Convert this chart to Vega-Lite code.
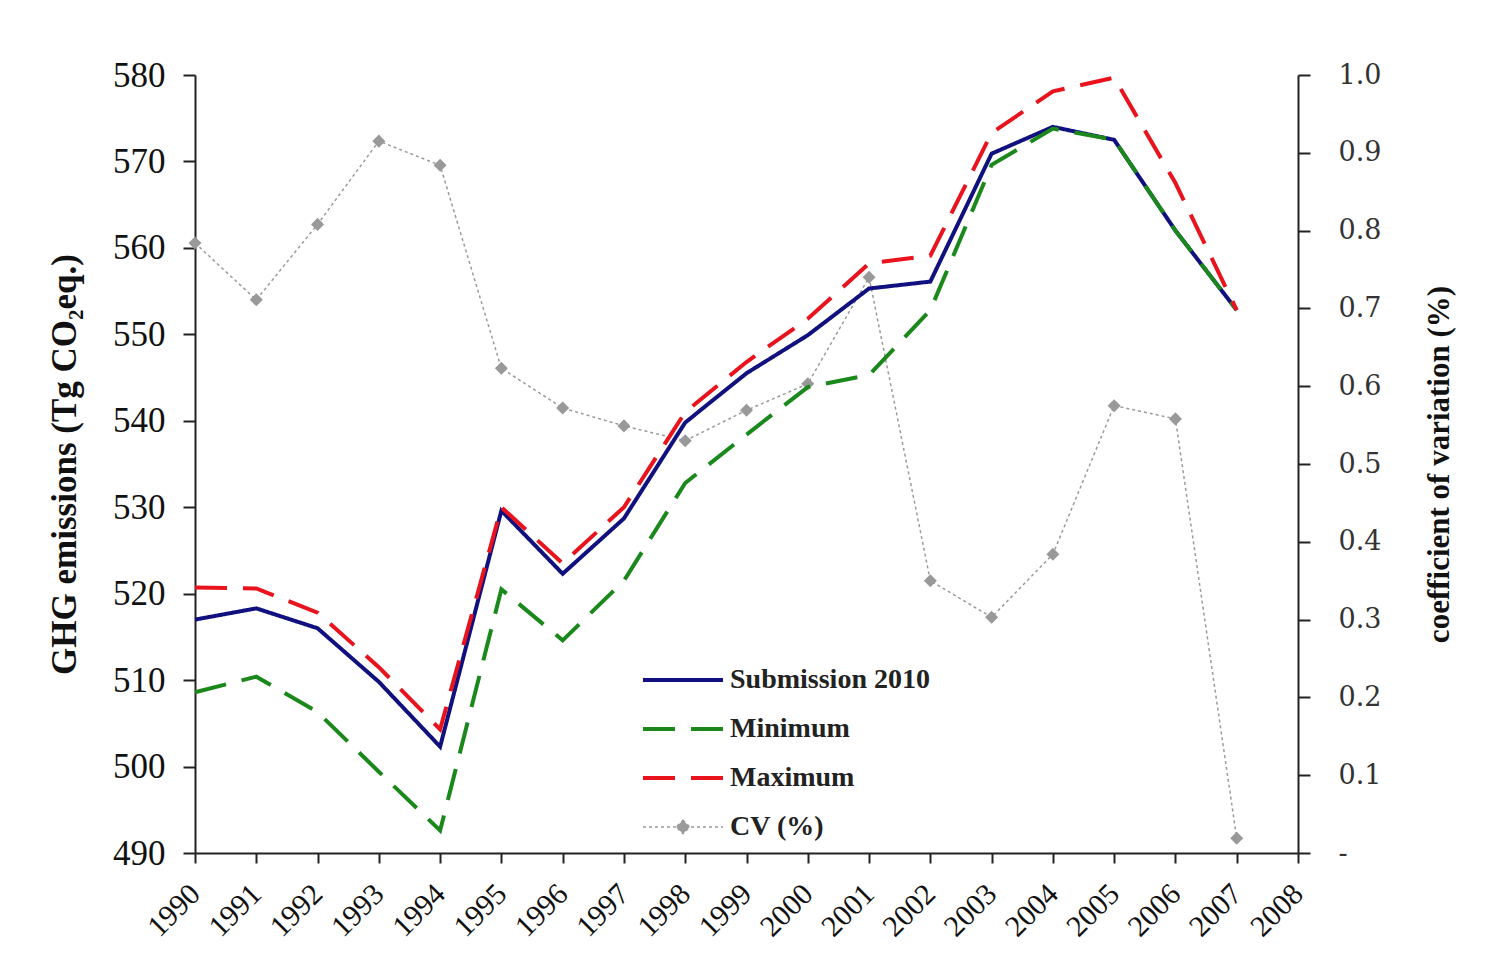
{
  "$schema": "https://vega.github.io/schema/vega-lite/v6.json",
  "width": 1103,
  "height": 778,
  "autosize": "none",
  "padding": {"left": 195, "top": 75, "right": 188, "bottom": 125},
  "background": "white",
  "config": {
    "view": {"stroke": null},
    "font": "Liberation Serif",
    "axis": {
      "grid": false,
      "domainColor": "#222",
      "domainWidth": 2,
      "tickColor": "#222",
      "tickWidth": 2,
      "tickSize": 12,
      "labelColor": "#111",
      "labelFont": "Liberation Serif",
      "titleFont": "Liberation Serif",
      "titleColor": "#111",
      "titleFontWeight": "bold"
    },
    "legend": {
      "title": null,
      "orient": "none",
      "legendX": 474,
      "legendY": 591,
      "symbolType": "stroke",
      "symbolSize": 6400,
      "symbolStrokeWidth": 4,
      "labelFont": "Liberation Serif",
      "labelFontWeight": "bold",
      "labelFontSize": 28,
      "labelColor": "#222",
      "labelOffset": 33,
      "labelLimit": 0,
      "rowPadding": 21
    }
  },
  "datasets": {
    "emissions": [
      {"year": 1990, "series": "Submission 2010", "value": 517.0},
      {"year": 1991, "series": "Submission 2010", "value": 518.3},
      {"year": 1992, "series": "Submission 2010", "value": 516.0},
      {"year": 1993, "series": "Submission 2010", "value": 509.8},
      {"year": 1994, "series": "Submission 2010", "value": 502.3},
      {"year": 1995, "series": "Submission 2010", "value": 529.6},
      {"year": 1996, "series": "Submission 2010", "value": 522.3},
      {"year": 1997, "series": "Submission 2010", "value": 528.7},
      {"year": 1998, "series": "Submission 2010", "value": 539.8},
      {"year": 1999, "series": "Submission 2010", "value": 545.5},
      {"year": 2000, "series": "Submission 2010", "value": 549.9},
      {"year": 2001, "series": "Submission 2010", "value": 555.3},
      {"year": 2002, "series": "Submission 2010", "value": 556.1},
      {"year": 2003, "series": "Submission 2010", "value": 570.9},
      {"year": 2004, "series": "Submission 2010", "value": 574.0},
      {"year": 2005, "series": "Submission 2010", "value": 572.5},
      {"year": 2006, "series": "Submission 2010", "value": 562.0},
      {"year": 2007, "series": "Submission 2010", "value": 552.8},
      {"year": 1990, "series": "Minimum", "value": 508.6},
      {"year": 1991, "series": "Minimum", "value": 510.4},
      {"year": 1992, "series": "Minimum", "value": 506.3},
      {"year": 1993, "series": "Minimum", "value": 499.4},
      {"year": 1994, "series": "Minimum", "value": 492.6},
      {"year": 1995, "series": "Minimum", "value": 520.5},
      {"year": 1996, "series": "Minimum", "value": 514.6},
      {"year": 1997, "series": "Minimum", "value": 521.5},
      {"year": 1998, "series": "Minimum", "value": 532.8},
      {"year": 1999, "series": "Minimum", "value": 538.4},
      {"year": 2000, "series": "Minimum", "value": 543.9},
      {"year": 2001, "series": "Minimum", "value": 545.3},
      {"year": 2002, "series": "Minimum", "value": 552.8},
      {"year": 2003, "series": "Minimum", "value": 569.6},
      {"year": 2004, "series": "Minimum", "value": 573.8},
      {"year": 2005, "series": "Minimum", "value": 572.5},
      {"year": 2006, "series": "Minimum", "value": 562.0},
      {"year": 2007, "series": "Minimum", "value": 552.8},
      {"year": 1990, "series": "Maximum", "value": 520.7},
      {"year": 1991, "series": "Maximum", "value": 520.6},
      {"year": 1992, "series": "Maximum", "value": 517.8},
      {"year": 1993, "series": "Maximum", "value": 511.5},
      {"year": 1994, "series": "Maximum", "value": 504.3},
      {"year": 1995, "series": "Maximum", "value": 530.0},
      {"year": 1996, "series": "Maximum", "value": 523.5},
      {"year": 1997, "series": "Maximum", "value": 530.0},
      {"year": 1998, "series": "Maximum", "value": 541.0},
      {"year": 1999, "series": "Maximum", "value": 546.8},
      {"year": 2000, "series": "Maximum", "value": 551.8},
      {"year": 2001, "series": "Maximum", "value": 558.2},
      {"year": 2002, "series": "Maximum", "value": 559.1},
      {"year": 2003, "series": "Maximum", "value": 573.3},
      {"year": 2004, "series": "Maximum", "value": 578.1},
      {"year": 2005, "series": "Maximum", "value": 579.7},
      {"year": 2006, "series": "Maximum", "value": 567.5},
      {"year": 2007, "series": "Maximum", "value": 552.8}
    ],
    "cv": [
      {"year": 1990, "series": "CV (%)", "value": 0.784},
      {"year": 1991, "series": "CV (%)", "value": 0.711},
      {"year": 1992, "series": "CV (%)", "value": 0.808},
      {"year": 1993, "series": "CV (%)", "value": 0.915},
      {"year": 1994, "series": "CV (%)", "value": 0.884},
      {"year": 1995, "series": "CV (%)", "value": 0.623},
      {"year": 1996, "series": "CV (%)", "value": 0.572},
      {"year": 1997, "series": "CV (%)", "value": 0.549},
      {"year": 1998, "series": "CV (%)", "value": 0.530},
      {"year": 1999, "series": "CV (%)", "value": 0.569},
      {"year": 2000, "series": "CV (%)", "value": 0.603},
      {"year": 2001, "series": "CV (%)", "value": 0.740},
      {"year": 2002, "series": "CV (%)", "value": 0.350},
      {"year": 2003, "series": "CV (%)", "value": 0.303},
      {"year": 2004, "series": "CV (%)", "value": 0.384},
      {"year": 2005, "series": "CV (%)", "value": 0.575},
      {"year": 2006, "series": "CV (%)", "value": 0.558},
      {"year": 2007, "series": "CV (%)", "value": 0.019}
    ]
  },
  "encoding": {
    "x": {
      "field": "year",
      "type": "quantitative",
      "scale": {"domain": [1990, 2008], "nice": false, "zero": false},
      "axis": {
        "title": null,
        "values": [1990, 1991, 1992, 1993, 1994, 1995, 1996, 1997, 1998, 1999, 2000, 2001, 2002, 2003, 2004, 2005, 2006, 2007, 2008],
        "format": "d",
        "labelAngle": -45,
        "labelAlign": "right",
        "labelBaseline": "middle",
        "labelFontSize": 30,
        "labelPadding": 26,
        "tickSize": 10,
        "labelFlush": false,
        "labelOverlap": false
      }
    }
  },
  "layer": [
    {
      "data": {"name": "cv"},
      "encoding": {
        "y": {
          "field": "value",
          "type": "quantitative",
          "scale": {"domain": [0, 1], "nice": false},
          "axis": {
            "orient": "right",
            "title": "coefficient of variation (%)",
            "titleAngle": -90,
            "titleFontSize": 31,
            "titlePadding": 75,
            "values": [0, 0.1, 0.2, 0.3, 0.4, 0.5, 0.6, 0.7, 0.8, 0.9, 1.0],
            "labelExpr": "datum.value === 0 ? '-' : format(datum.value, '.1f')",
            "labelFont": "DejaVu Serif",
            "labelFontSize": 27,
            "labelColor": "#333",
            "labelPadding": 28,
            "labelFlush": false,
            "labelOverlap": false
          }
        }
      },
      "layer": [
        {
          "mark": {"type": "line", "strokeWidth": 1.5},
          "encoding": {
            "color": {"field": "series", "type": "nominal"},
            "strokeDash": {"field": "series", "type": "nominal"}
          }
        },
        {
          "mark": {"type": "point", "shape": "diamond", "filled": true, "size": 170, "color": "#999999", "opacity": 1}
        }
      ]
    },
    {
      "data": {"name": "emissions"},
      "mark": {"type": "line", "strokeWidth": 4},
      "encoding": {
        "y": {
          "field": "value",
          "type": "quantitative",
          "scale": {"domain": [490, 580], "nice": false, "zero": false},
          "axis": {
            "orient": "left",
            "title": "GHG emissions (Tg CO₂eq.)",
            "titleFontSize": 35,
            "titlePadding": 30,
            "values": [490, 500, 510, 520, 530, 540, 550, 560, 570, 580],
            "labelFontSize": 35,
            "labelPadding": 18,
            "labelFlush": false,
            "labelOverlap": false
          }
        },
        "color": {
          "field": "series",
          "type": "nominal",
          "scale": {
            "domain": ["Submission 2010", "Minimum", "Maximum", "CV (%)"],
            "range": ["#10107e", "#1a881a", "#e8131c", "#9a9a9a"]
          },
          "legend": {
            "symbolSize": 6400,
            "encode": {
              "symbols": {
                "update": {
                  "shape": {"signal": "datum.label === 'CV (%)' ? 'M-1,0H1M0,-0.17L0.17,0L0,0.17L-0.17,0Z' : 'stroke'"},
                  "fill": {"signal": "datum.label === 'CV (%)' ? '#9a9a9a' : 'transparent'"},
                  "strokeWidth": {"signal": "datum.label === 'CV (%)' ? 1.5 : 4"}
                }
              }
            }
          }
        },
        "strokeDash": {
          "field": "series",
          "type": "nominal",
          "scale": {
            "domain": ["Submission 2010", "Minimum", "Maximum", "CV (%)"],
            "range": [[1, 0], [32, 16], [32, 16], [3, 3]]
          },
          "legend": {"symbolSize": 6400}
        }
      }
    }
  ],
  "resolve": {"scale": {"y": "independent"}}
}
